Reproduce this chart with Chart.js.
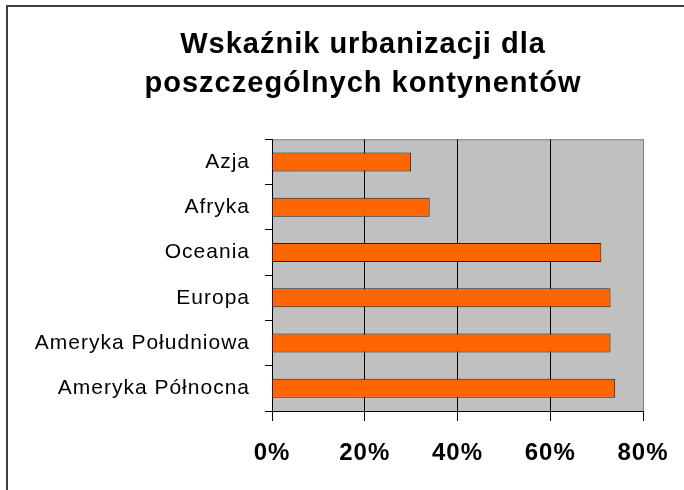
<!DOCTYPE html>
<html>
<head>
<meta charset="utf-8">
<script src="https://cdn.jsdelivr.net/npm/chart.js@4"></script>
<style>
  html, body { margin: 0; padding: 0; background: #fff; overflow: hidden; }
  #wrap { position: relative; width: 684px; height: 490px; overflow: hidden; }
  #frame { position: absolute; left: 6px; top: 5px; width: 1000px; height: 1000px;
           border-left: 2px solid #404040; border-top: 2px solid #404040; pointer-events: none; }
  canvas { position: absolute; left: 0; top: 0; }
</style>
</head>
<body>
<div id="wrap">
  <canvas id="chart" width="726" height="490" style="width:726px;height:490px"></canvas>
  <div id="frame"></div>
</div>
<script>
const kontynenty = ['Azja', 'Afryka', 'Oceania', 'Europa', 'Ameryka Południowa', 'Ameryka Północna'];
const urbanizacja = [30, 34, 71, 73, 73, 74];
const tickiX = [0, 20, 40, 60, 80];
const tytul = ['Wskaźnik urbanizacji dla', 'poszczególnych kontynentów'];

const font = '"Liberation Sans", Arial, sans-serif';

// canvas resize wipes the ctx state, so set spacing again before layout and draw
const odstepLiter = {
    id: 'odstepLiter',
    beforeLayout(chart) { chart.ctx.letterSpacing = '1px'; },
    beforeDraw(chart) { chart.ctx.letterSpacing = '1px'; },
    // title centred on the whole frame, not only on the part left of the padding
    afterLayout(chart) {
        if (chart.titleBlock) {
            chart.titleBlock.left = 0;
            chart.titleBlock.right = chart.width;
        }
    }
};

// grey plot area like the old Excel charts
const tloWykresu = {
    id: 'tloWykresu',
    beforeDraw(chart) {
        const { ctx, chartArea: a } = chart;
        ctx.save();
        ctx.fillStyle = '#c0c0c0';
        ctx.fillRect(a.left, a.top, a.right - a.left, a.bottom - a.top);
        ctx.strokeStyle = '#808080';
        ctx.lineWidth = 1;
        ctx.beginPath();
        ctx.moveTo(a.left, a.top + 0.5);
        ctx.lineTo(a.right + 0.5, a.top + 0.5);
        ctx.lineTo(a.right + 0.5, a.bottom);
        ctx.stroke();
        ctx.restore();
    }
};

new Chart(document.getElementById('chart'), {
    type: 'bar',
    data: {
        labels: kontynenty,
        datasets: [{
            data: urbanizacja,
            backgroundColor: '#ff6600',
            borderColor: '#222',
            borderWidth: 1,
            categoryPercentage: 1,
            barPercentage: 0.42
        }]
    },
    options: {
        indexAxis: 'y',
        responsive: false,
        animation: false,
        layout: { padding: { left: 0, right: 83, top: 0, bottom: 0 } },
        plugins: {
            legend: { display: false },
            tooltip: { enabled: false },
            title: {
                display: true,
                text: tytul,
                color: '#000',
                font: { family: font, size: 29, weight: 'bold', lineHeight: 1.35 },
                padding: { top: 25, bottom: 36 }
            }
        },
        scales: {
            x: {
                min: 0,
                max: 80,
                afterBuildTicks: s => { s.ticks = tickiX.map(v => ({ value: v })); },
                afterFit: s => { s.height = 79; },
                border: { display: true, color: '#000', width: 1 },
                grid: {
                    color: c => (c.tick && c.tick.value === 80 ? '#808080' : '#000'),
                    tickColor: '#000',
                    tickLength: 10,
                    lineWidth: 1
                },
                ticks: {
                    color: '#000',
                    padding: 18,
                    font: { family: font, size: 24, weight: 'bold' },
                    callback: v => v + '%'
                }
            },
            y: {
                afterFit: s => { s.width = 272; },
                border: { display: true, color: '#000', width: 1 },
                grid: {
                    drawOnChartArea: false,
                    color: '#000',
                    tickLength: 7
                },
                ticks: {
                    color: '#000',
                    padding: 15,
                    font: { family: font, size: 21 }
                }
            }
        }
    },
    plugins: [odstepLiter, tloWykresu]
});
</script>
</body>
</html>
